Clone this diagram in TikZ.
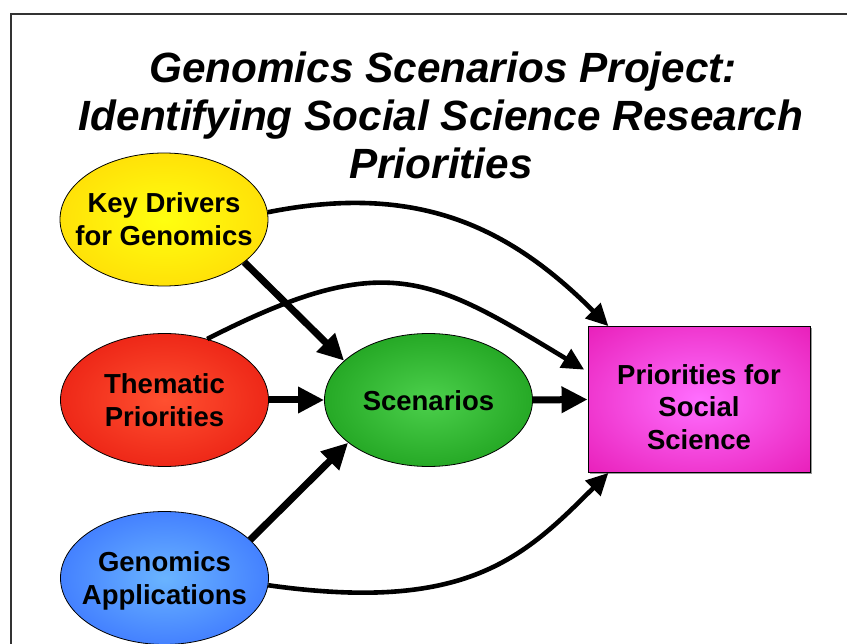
\documentclass[tikz,border=0pt]{standalone}
\usepackage{fontspec}
\setmainfont{Liberation Sans}
\usetikzlibrary{arrows.meta,shapes.geometric,shadows}
\definecolor{yIn}{HTML}{FFFF10}\definecolor{yOut}{HTML}{FFC400}
\definecolor{rIn}{HTML}{FF5030}\definecolor{rOut}{HTML}{DD0000}
\definecolor{gIn}{HTML}{4CD04C}\definecolor{gOut}{HTML}{008200}
\definecolor{bIn}{HTML}{6AB4FF}\definecolor{bOut}{HTML}{1E4EFF}
\definecolor{mIn}{HTML}{FF6EFF}\definecolor{mOut}{HTML}{DF009E}
\pgfdeclareradialshading{yshade}{\pgfpoint{0bp}{0bp}}{color(0bp)=(yIn); color(50bp)=(yOut); color(80bp)=(yOut)}
\pgfdeclareradialshading{rshade}{\pgfpoint{0bp}{0bp}}{color(0bp)=(rIn); color(50bp)=(rOut); color(80bp)=(rOut)}
\pgfdeclareradialshading{gshade}{\pgfpoint{0bp}{0bp}}{color(0bp)=(gIn); color(50bp)=(gOut); color(80bp)=(gOut)}
\pgfdeclareradialshading{bshade}{\pgfpoint{0bp}{0bp}}{color(0bp)=(bIn); color(50bp)=(bOut); color(80bp)=(bOut)}
\pgfdeclareradialshading{mshade}{\pgfpoint{0bp}{0bp}}{color(0bp)=(mIn); color(50bp)=(mOut); color(80bp)=(mOut)}
\begin{document}
\begin{tikzpicture}[x=1pt,y=-1pt,
  bubble/.style={ellipse, draw=black, line width=0.8pt, minimum width=208pt, minimum height=133pt, inner sep=0pt},
  lbl/.style={font=\fontsize{27.5}{32.5}\selectfont\bfseries, align=center, inner sep=0pt},
  bigarrow/.style={line width=7pt, -{Triangle[length=26pt,width=25pt]}},
  curvearrow/.style={line width=4.6pt, -{Triangle[length=22pt,width=21pt]}},
  titletext/.style={font=\fontsize{42.3}{48}\selectfont\bfseries\itshape, inner sep=0pt, anchor=base}]
\useasboundingbox (0,0) rectangle (847,644);
\draw[line width=1.6pt, draw=black!80] (11,14) rectangle (880,680);
% title
\node[titletext] (t1) at (443,83) {Genomics Scenarios Project:};
\node[titletext] (t2) at (441,131) {Identifying Social Science Research};
\node[titletext] (t3) at (441,179) {Priorities};
% shapes
\node[bubble, shading=yshade] (kd) at (164,219.5) {};
\node[bubble, shading=rshade] (th) at (164.5,400) {};
\node[bubble, shading=bshade] (ga) at (164.5,578) {};
\node[bubble, shading=gshade] (sc) at (428.5,400) {};
\node[draw=black, line width=0.8pt, minimum width=222pt, minimum height=146pt, inner sep=0pt, shading=mshade,
      drop shadow={shadow xshift=1.8pt, shadow yshift=-1.8pt, fill=gray!80, opacity=1}] (pr) at (699,399.5) {};
% labels
\node[lbl] (kdt) at (164,219) {Key Drivers\\for Genomics};
\node[lbl] (tht) at (164.5,400) {Thematic\\Priorities};
\node[lbl] (gat) at (164.5,581) {Genomics\\Applications};
\node[lbl] (sct) at (428.5,400.5) {Scenarios};
\node[lbl] (prt) at (699,407) {Priorities for\\Social\\Science};
% straight arrows
\draw[bigarrow] (kd.-28) -- (sc.155);
\draw[bigarrow] (th.east) -- (sc.west);
\draw[bigarrow] (ga.24) -- (sc.-152);
\draw[bigarrow] (sc.east) -- (pr.west);
% curved arrows
\draw[curvearrow] (kd.4) .. controls +(150,-30) and +(-99,-99) .. (pr.141.6);
\draw[curvearrow, shorten >=4pt] (th.55) .. controls +(178,-91) and +(-157.6,-95.4) .. (pr.166.8);
\draw[curvearrow] (ga.-4) .. controls +(198,28) and +(-85,85) .. (pr.-141.3);
\end{tikzpicture}
\end{document}
